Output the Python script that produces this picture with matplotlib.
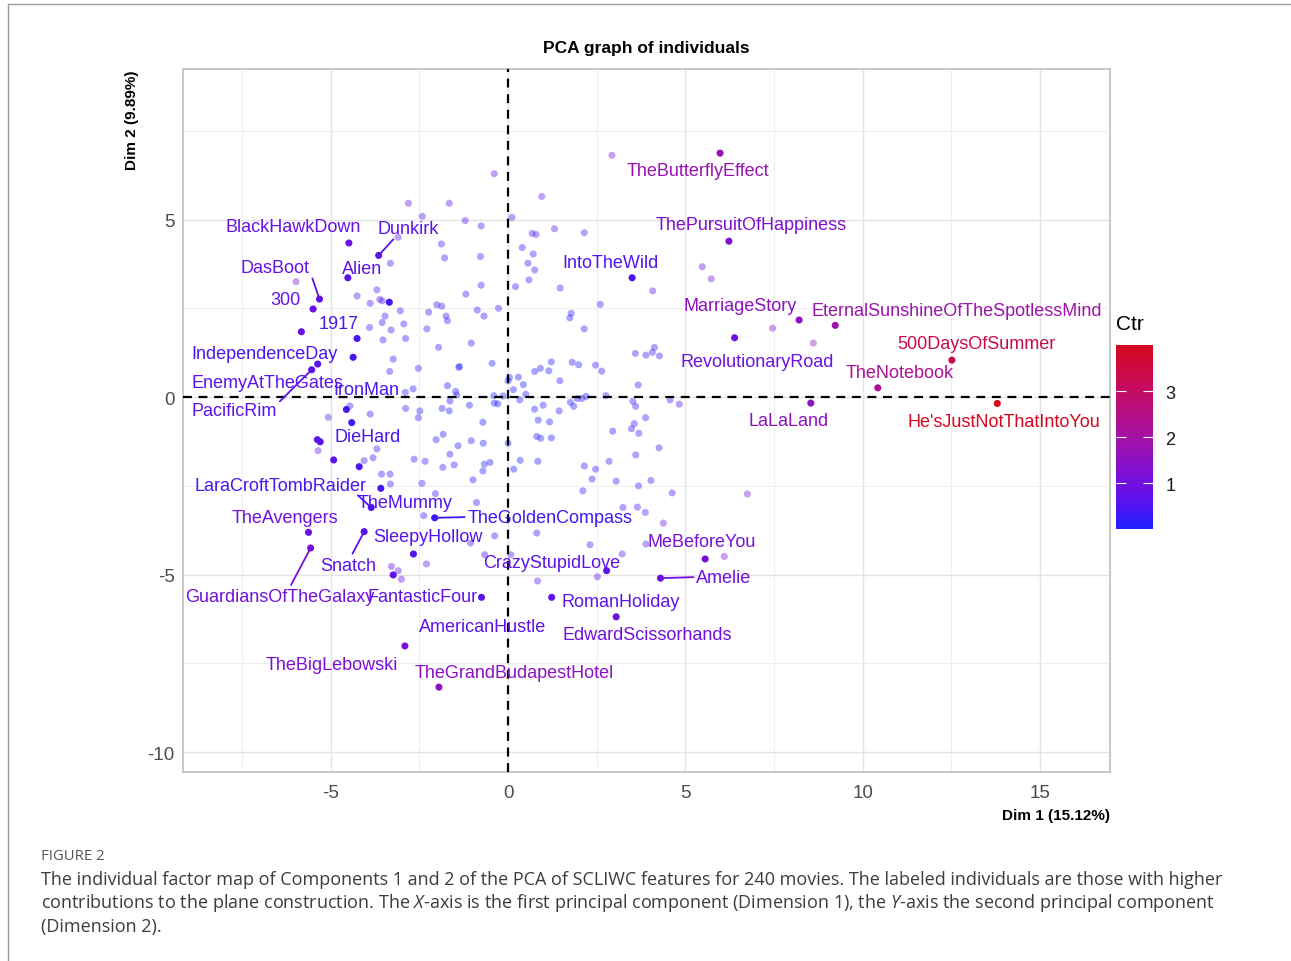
import numpy as np
import matplotlib
matplotlib.use("Agg")
import matplotlib.pyplot as plt
from matplotlib.colors import LinearSegmentedColormap, Normalize
from matplotlib.lines import Line2D

# individuals with high contribution (drawn solid), '' = no label shown
names = ["BlackHawkDown", "Dunkirk", "Alien", "DasBoot", "300", "", "1917", "",
         "IndependenceDay", "EnemyAtTheGates", "PacificRim", "IronMan", "DieHard",
         "", "", "", "", "LaraCroftTombRaider", "TheMummy", "TheGoldenCompass",
         "TheAvengers", "GuardiansOfTheGalaxy", "Snatch", "SleepyHollow",
         "FantasticFour", "AmericanHustle", "TheBigLebowski", "TheGrandBudapestHotel",
         "LaLaLand", "MeBeforeYou", "Amelie", "CrazyStupidLove", "RomanHoliday",
         "EdwardScissorhands", "TheButterflyEffect", "ThePursuitOfHappiness",
         "IntoTheWild", "MarriageStory", "RevolutionaryRoad",
         "EternalSunshineOfTheSpotlessMind", "500DaysOfSummer", "TheNotebook",
         "He'sJustNotThatIntoYou"]
top_x = [-4.49, -3.65, -4.52, -5.32, -5.50, -5.83, -4.26, -3.35, -4.37, -5.37, -5.54,
         -4.56, -4.41, -5.38, -5.30, -4.92, -4.20, -3.59, -3.86, -2.07, -5.63, -5.57,
         -4.06, -2.67, -3.24, -0.75, -2.91, -1.95, 8.54, 5.56, 4.30, 2.78, 1.23, 3.05,
         5.98, 6.23, 3.50, 8.21, 6.39, 9.23, 12.52, 10.43, 13.80]
top_y = [4.34, 3.99, 3.36, 2.76, 2.48, 1.84, 1.65, 2.67, 1.12, 0.93, 0.77,
         -0.35, -0.72, -1.20, -1.26, -1.77, -1.96, -2.57, -3.11, -3.40, -3.81, -4.25,
         -3.79, -4.42, -5.01, -5.64, -7.01, -8.17, -0.17, -4.56, -5.10, -4.89, -5.64, -6.19,
         6.87, 4.39, 3.36, 2.17, 1.67, 2.02, 1.04, 0.26, -0.18]

# the other individuals (drawn faint)
rest_x = [-0.39, 2.93, 0.95, -2.81, -1.66, -2.42, -1.21, -0.76, 0.11, -3.10,
          -1.88, -1.79, -0.78, -3.32, -5.98, -3.70, -4.26, -3.89, -3.62, -3.55,
          -3.04, -2.01, -1.87, -1.19, -0.76, -0.27, -0.87, -0.68, -1.75, -1.71,
          -2.24, -3.47, -3.55, -2.94, -3.91, -3.30, -2.29, -2.89, -3.53, -1.96,
          -1.04, -3.24, -1.39, -1.37, -2.53, -3.34, -0.45, -1.71, -1.48, -1.45,
          -2.90, -2.68, 0.00, -0.40, -0.14, 0.68, 0.79, 1.31, 2.15, 0.40,
          0.71, 0.56, 0.75, 0.59, 0.21, 1.47, 2.60, 1.78, 1.74, 2.15,
          5.48, 5.73, 4.08, 7.46, 8.61, 3.59, 3.89, 4.07, 4.13, 4.27,
          0.04, 0.29, 0.43, 0.15, 0.50, 0.75, 0.91, 1.15, 1.22, 1.46,
          1.81, 1.99, 2.47, 2.64, 3.67, 2.20, 2.08, 2.76, 0.33, 0.75,
          0.99, 1.44, 1.76, 1.85, 1.95, 0.85, 1.17, 0.81, 0.92, 1.22,
          2.95, 0.00, 0.34, 0.84, 0.16, 2.15, 2.47, 2.85, 3.52, 3.60,
          4.57, 4.83, 3.88, 3.56, 3.48, 3.69, 4.26, 3.60, 2.37, 2.11,
          3.05, 3.68, 4.03, 4.63, 6.75, 3.24, 3.65, 3.87, 4.38, 0.81,
          2.31, 3.22, 3.89, 6.10, 0.08, 0.83, 2.52, -1.64, -1.09, -0.39,
          -0.29, -2.89, -2.49, -2.53, -1.86, -1.66, -0.71, -2.03, -1.83, -1.41,
          -1.04, -0.70, -1.64, -2.65, -2.34, -1.84, -1.52, -0.67, -0.51, -0.71,
          -4.46, -5.07, -3.89, -5.36, -3.70, -3.81, -4.06, -3.57, -3.33, -3.32,
          -2.43, -0.99, -2.05, -0.89, -2.38, -1.06, -0.38, -0.66, -2.30, -3.29,
          -3.10, -3.01]
rest_y = [6.29, 6.81, 5.65, 5.46, 5.46, 5.09, 4.97, 4.82, 5.06, 4.50,
          4.31, 3.92, 3.96, 3.77, 3.25, 3.02, 2.85, 2.64, 2.75, 2.71,
          2.43, 2.60, 2.56, 2.90, 3.15, 2.50, 2.45, 2.28, 2.28, 2.15,
          2.39, 2.28, 2.10, 2.06, 1.96, 1.89, 1.92, 1.65, 1.61, 1.40,
          1.52, 1.07, 0.84, 0.86, 0.81, 0.72, 0.95, 0.32, 0.16, 0.06,
          0.13, 0.23, 0.46, 0.04, 0.03, 4.61, 4.58, 4.74, 4.63, 4.21,
          4.03, 3.77, 3.58, 3.30, 3.11, 3.07, 2.61, 2.36, 2.23, 1.92,
          3.67, 3.33, 2.99, 1.94, 1.52, 1.23, 1.18, 1.26, 1.40, 1.16,
          0.55, 0.56, 0.35, 0.21, 0.08, 0.72, 0.81, 0.74, 0.99, 0.46,
          0.98, 0.91, 0.90, 0.73, 0.34, 0.02, -0.04, 0.04, -0.08, -0.34,
          -0.23, -0.39, -0.15, -0.26, -0.04, -0.65, -0.70, -1.11, -1.16, -1.15,
          -0.96, -1.30, -1.78, -1.81, -2.03, -1.94, -2.03, -1.81, -0.12, -0.26,
          -0.08, -0.20, -0.58, -0.75, -0.89, -1.02, -1.43, -1.63, -2.31, -2.64,
          -2.37, -2.50, -2.35, -2.70, -2.73, -3.11, -3.10, -3.25, -3.55, -3.83,
          -4.16, -4.42, -4.14, -4.49, -4.44, -5.18, -5.06, -0.11, -0.23, -0.17,
          -0.19, -0.32, -0.39, -0.58, -0.32, -0.39, -0.71, -1.20, -1.05, -1.37,
          -1.23, -1.30, -1.61, -1.75, -1.81, -1.98, -1.91, -1.89, -1.84, -2.08,
          -0.25, -0.57, -0.48, -1.51, -1.46, -1.71, -1.79, -2.17, -2.17, -2.45,
          -2.43, -2.33, -2.72, -2.97, -3.34, -4.11, -3.91, -4.44, -4.70, -4.77,
          -4.89, -5.13]

# where the repelled labels sit (data units)
label_pos = {
    "BlackHawkDown": (-6.06, 4.79), "Dunkirk": (-2.82, 4.76), "Alien": (-4.12, 3.61),
    "DasBoot": (-6.57, 3.66), "300": (-6.29, 2.76), "1917": (-4.79, 2.06),
    "IndependenceDay": (-6.88, 1.24), "EnemyAtTheGates": (-6.80, 0.42),
    "PacificRim": (-7.72, -0.39), "IronMan": (-4.00, 0.20), "DieHard": (-3.95, -1.10),
    "LaraCroftTombRaider": (-6.43, -2.48), "TheMummy": (-2.90, -2.96),
    "TheGoldenCompass": (1.18, -3.38), "TheAvengers": (-6.29, -3.38),
    "GuardiansOfTheGalaxy": (-6.43, -5.61), "Snatch": (-4.51, -4.73),
    "SleepyHollow": (-2.26, -3.92), "FantasticFour": (-2.40, -5.61),
    "AmericanHustle": (-0.71, -6.45), "TheBigLebowski": (-4.96, -7.52),
    "TheGrandBudapestHotel": (0.17, -7.75), "LaLaLand": (7.92, -0.65),
    "MeBeforeYou": (5.47, -4.06), "Amelie": (6.09, -5.07),
    "CrazyStupidLove": (1.24, -4.65), "RomanHoliday": (3.19, -5.75),
    "EdwardScissorhands": (3.92, -6.68), "TheButterflyEffect": (5.36, 6.37),
    "ThePursuitOfHappiness": (6.85, 4.85), "IntoTheWild": (2.88, 3.80),
    "MarriageStory": (6.54, 2.59), "RevolutionaryRoad": (7.02, 1.01),
    "EternalSunshineOfTheSpotlessMind": (12.66, 2.45), "500DaysOfSummer": (13.20, 1.52),
    "TheNotebook": (11.05, 0.70), "He'sJustNotThatIntoYou": (13.99, -0.68),
}
# labels joined to their point by a segment: where the segment leaves the label box
segment_anchor = {
    "Dunkirk": (0.3, 0.0), "DasBoot": (1.0, 0.3), "PacificRim": (1.0, 0.9),
    "TheMummy": (0.0, 0.9), "TheGoldenCompass": (0.0, 0.5),
    "GuardiansOfTheGalaxy": (0.55, 1.0), "Snatch": (0.55, 1.0), "Amelie": (0.0, 0.5),
}

plt.rcParams['font.family'] = ['Liberation Sans', 'DejaVu Sans']
plt.rcParams['axes.unicode_minus'] = False
plt.rcParams['mathtext.fontset'] = 'custom'
plt.rcParams['mathtext.rm'] = 'Open Sans'
plt.rcParams['mathtext.it'] = 'Open Sans:italic'

W, H = 1291, 962
fig = plt.figure(figsize=(W / 100, H / 100), dpi=100)
ax = fig.add_axes([183 / W, 1 - 773 / H, 927 / W, 703 / H])

# contribution of each individual to the plane (Dim1-Dim2), in %
all_x = np.array(top_x + rest_x)
all_y = np.array(top_y + rest_y)
r2 = all_x ** 2 + all_y ** 2
ctr_all = 100 * r2 / r2.sum()
ctr_top = ctr_all[:len(top_x)]
ctr_rest = ctr_all[len(top_x):]

cmap = LinearSegmentedColormap.from_list(
    "ctr", [(0.0, "#2020FF"), (0.15, "#5A12EE"), (0.3, "#7E0FD4"), (0.45, "#9C12B0"),
            (0.6, "#B2108C"), (0.8, "#C70A55"), (1.0, "#D6081E")])
norm = Normalize(ctr_all.min(), ctr_all.max())

ax.scatter(rest_x, rest_y, c=ctr_rest, cmap=cmap, norm=norm, s=26,
           alpha=0.4, edgecolors='none', zorder=2)
ax.axhline(0, color='black', lw=1.6, ls=(0, (4, 3)), zorder=3)
ax.axvline(0, color='black', lw=1.6, ls=(0, (4, 3)), zorder=3)
sc = ax.scatter(top_x, top_y, c=ctr_top, cmap=cmap, norm=norm, s=26,
                edgecolors='none', zorder=4)

for nm, x, y, c in zip(names, top_x, top_y, ctr_top):
    if nm == "":
        continue
    col = cmap(norm(c))
    arrow = None
    if nm in segment_anchor:
        arrow = dict(arrowstyle='-', color=col, lw=1.3, shrinkA=0, shrinkB=2,
                     relpos=segment_anchor[nm])
    ax.annotate(nm, xy=(x, y), xytext=label_pos[nm], ha='center', va='center',
                fontsize=13, color=col, arrowprops=arrow, zorder=5,
                annotation_clip=False)

ax.set_xlim(-9.17, 16.98)
ax.set_ylim(-10.56, 9.24)
ax.set_xticks([-5, 0, 5, 10, 15])
ax.set_yticks([-10, -5, 0, 5])
ax.set_xticks([-7.5, -2.5, 2.5, 7.5, 12.5], minor=True)
ax.set_yticks([-7.5, -2.5, 2.5, 7.5], minor=True)
ax.grid(which='major', color='#E4E4E4', lw=1.0, zorder=0)
ax.grid(which='minor', color='#EEEEEE', lw=0.7, zorder=0)
ax.set_axisbelow(True)
ax.tick_params(which='both', length=0, labelsize=13.5, labelcolor='#4D4D4D')
ax.tick_params(axis='x', pad=9)
ax.tick_params(axis='y', pad=6)
for s in ax.spines.values():
    s.set_color('#C4C4C4')
    s.set_linewidth(1.3)

fig.text(646.5 / W, 1 - 48 / H, "PCA graph of individuals", ha='center', va='center',
         fontsize=12.5, fontweight='bold')
fig.text(1110 / W, 1 - 816 / H, "Dim 1 (15.12%)", ha='right', va='center',
         fontsize=11, fontweight='bold')
fig.text(132 / W, 1 - 70 / H, "Dim 2 (9.89%)", ha='center', va='top', rotation=90,
         fontsize=11, fontweight='bold')

# colour bar
cax = fig.add_axes([1116 / W, 1 - 530 / H, 37 / W, 184 / H])
cb = fig.colorbar(sc, cax=cax, ticks=[1, 2, 3])
cb.outline.set_visible(False)
cax.tick_params(direction='in', color='white', length=7, width=0.8,
                left=True, right=True, labelsize=13, labelcolor='#1A1A1A', pad=9)
fig.text(1116 / W, 1 - 325 / H, "Ctr", ha='left', va='center', fontsize=15)

# page frame and caption
fig.add_artist(Line2D([8 / W, 1], [1 - 5 / H, 1 - 5 / H], transform=fig.transFigure,
                      color='#9A9A9A', lw=1))
fig.add_artist(Line2D([8 / W, 8 / W], [0, 1 - 5 / H], transform=fig.transFigure,
                      color='#9A9A9A', lw=1))
fig.text(41 / W, 1 - 857 / H, "FIGURE 2", ha='left', va='center', fontsize=10.7,
         color='#555555', family=['Open Sans', 'DejaVu Sans'])
caption = [
    "The individual factor map of Components 1 and 2 of the PCA of SCLIWC features for 240 movies. The labeled individuals are those with higher",
    "contributions to the plane construction. The $\\mathit{X}$-axis is the first principal component (Dimension 1), the $\\mathit{Y}$-axis the second principal component",
    "(Dimension 2).",
]
for i, line in enumerate(caption):
    fig.text(41 / W, 1 - (880 + 23.5 * i) / H, line, ha='left', va='center',
             fontsize=13.0, color='#3C3C3C', family=['Open Sans', 'DejaVu Sans'])

fig.savefig("out.png", dpi=100)
